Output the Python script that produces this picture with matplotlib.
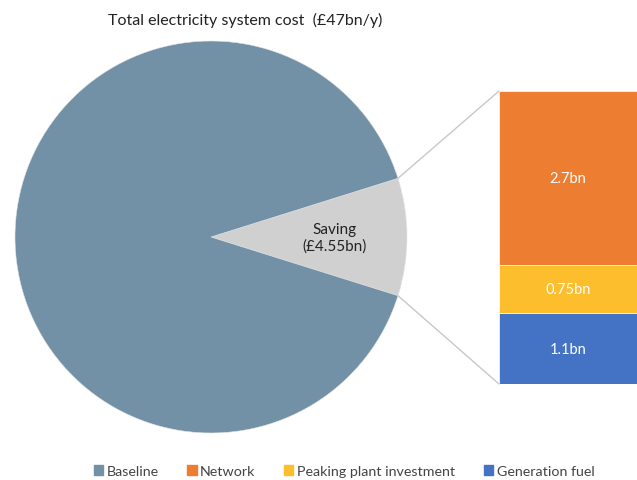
import matplotlib.pyplot as plt
from matplotlib.patches import ConnectionPatch, Patch
import numpy as np

plt.rcParams['font.family'] = ['Lato', 'DejaVu Sans']

# data
total = 47.0
saving = 4.55
baseline = total - saving
parts = ['Network', 'Peaking plant investment', 'Generation fuel']
part_vals = [2.7, 0.75, 1.1]
part_labels = ['2.7bn', '0.75bn', '1.1bn']

c_base = '#7391A6'
c_save = '#D1D0D1'
part_cols = ['#ED7D31', '#FCBE2C', '#4472C4']

W, H = 637, 481
fig = plt.figure(figsize=(W / 100, H / 100), dpi=100)

# pie axes (pixel layout)
cx, cy, r = 211, 238, 196
ax = fig.add_axes([(cx - r) / W, (H - cy - r) / H, 2 * r / W, 2 * r / H])
theta = saving / total * 360
wedges, _ = ax.pie([saving, baseline], colors=[c_save, c_base], startangle=-theta / 2,
                   counterclock=True, radius=1,
                   wedgeprops=dict(edgecolor='#E4E4E4', linewidth=0.4))
ax.set_xlim(-1, 1)
ax.set_ylim(-1, 1)
ax.set_aspect('equal')
ax.text(0.63, 0, 'Saving\n(£4.55bn)', ha='center', va='center', fontsize=11,
        color='#222222', linespacing=1.2)

# stacked bar axes
bx0, btop, bbot = 499, 92, 385
bax = fig.add_axes([bx0 / W, (H - bbot) / H, (W - bx0) / W, (bbot - btop) / H])
bottom = 0
for v, col, lab in zip(part_vals[::-1], part_cols[::-1], part_labels[::-1]):
    bax.bar(0, v, bottom=bottom, width=1, color=col, align='edge', edgecolor='white', linewidth=0.5)
    bax.text(0.5, bottom + v / 2, lab, ha='center', va='center', color='white', fontsize=10.5)
    bottom += v
bax.set_xlim(0, 1)
bax.set_ylim(0, saving)
bax.axis('off')

# connectors from wedge edge to bar corners
t = np.radians(theta / 2)
for sgn, yb in [(1, saving), (-1, 0)]:
    con = ConnectionPatch(xyA=(np.cos(t), sgn * np.sin(t)), coordsA=ax.transData,
                          xyB=(0, yb), coordsB=bax.transData, color='#C8C8C8', linewidth=1)
    fig.add_artist(con)

fig.text(245 / W, 1 - 20 / H, 'Total electricity system cost  (£47bn/y)', ha='center', va='center',
         fontsize=11.5, color='#222222')

handles = [Patch(color=c_base, label='Baseline')] + \
          [Patch(color=c, label=l) for c, l in zip(part_cols, parts)]
fig.legend(handles=handles, loc='center', bbox_to_anchor=(344 / W, 1 - 472 / H), ncol=4,
           frameon=False, fontsize=10.3, handlelength=0.65, handleheight=0.65,
           handletextpad=0.25, columnspacing=2.0, labelcolor='#444444')

fig.savefig('out.png', dpi=100)
